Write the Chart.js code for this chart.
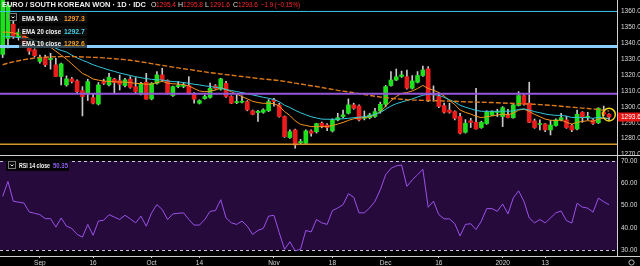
<!DOCTYPE html>
<html>
<head>
<meta charset="utf-8">
<script src="https://cdn.jsdelivr.net/npm/chart.js@4.4.1/dist/chart.umd.min.js"></script>
<style>
  html, body { margin: 0; padding: 0; background: #000; overflow: hidden; }
  #wrap { position: relative; width: 640px; height: 266px; }
  #priceBox { position: absolute; left: 0; top: 0; width: 640px; height: 156px; }
  #rsiBox { position: absolute; left: 0; top: 156px; width: 640px; height: 110px; }
</style>
</head>
<body>
<div id="wrap">
  <div id="priceBox"><canvas id="priceChart"></canvas></div>
  <div id="rsiBox"><canvas id="rsiChart"></canvas></div>
</div>
<script>
// === DATA (EUR/KRW daily, IDC) ===
const startDate = '2019-08-22';
const slotCount = 116; // 115 candles + one empty slot on the right

const opens = [1333,1343,1352,1344,1346.5,1339,1335.8,1328.6,1331.2,1329.8,
  1326.4,1319.1,1313.8,1317.6,1316.3,1310.2,1308.1,1305.8,1301.8,1315.9,
  1313.8,1317.4,1316.5,1313.4,1317.4,1312.7,1308.1,1315.5,1305,1314.8,
  1320.1,1316.5,1307.1,1312.7,1312.9,1313.4,1308.5,1302.3,1305.2,1306,
  1313.2,1311.1,1314.8,1306.5,1302.7,1302.9,1303.3,1297.5,1296.4,1296.6,
  1297.6,1304.4,1301.2,1293.9,1280.7,1285.5,1277.4,1277.1,1284.9,1284.4,
  1289.7,1288.6,1284.9,1291.8,1293.9,1296,1301.2,1300.6,1292.8,1293.2,
  1293.9,1297.4,1301.6,1313.4,1316.9,1319.1,1319,1311.7,1315.5,1319.7,
  1323.9,1308,1306.5,1300.8,1298,1297,1293.9,1284,1291.2,1290.3,
  1287,1289.5,1294.9,1296.5,1293.9,1295.3,1293.2,1300.8,1307.1,1302.3,
  1291.2,1288.9,1289.2,1285.5,1288.2,1291.8,1291.8,1288.2,1286.1,1296.6,
  1293.4,1291.7,1290,1296.5,1295.4];
const highs = [1368,1366,1354,1349,1348,1341,1336.5,1332.5,1332.5,1333.7,
  1330.5,1327.5,1319.5,1318.5,1317,1312.7,1317.4,1308.5,1315.3,1317.4,
  1321.1,1318,1320,1318,1319,1318.4,1315.5,1321.1,1315.3,1322.2,
  1324.3,1317,1313,1315.9,1315.2,1319,1309,1304.5,1307.5,1315,
  1314,1318,1316,1307,1307.5,1307,1304,1298,1297.8,1298.8,
  1304.6,1305.4,1302.3,1294.3,1285.5,1286,1279.6,1285.5,1285.5,1289.7,
  1290.5,1289.5,1292.5,1296,1298,1305,1302.3,1301.2,1297.4,1296,
  1299,1303,1313.5,1322.2,1323.8,1322.5,1323.2,1319.7,1322.2,1325.7,
  1325.3,1313.2,1309,1302.3,1302.3,1297.5,1296,1292,1292.8,1311.7,
  1291,1297.5,1297.5,1298.5,1300.2,1298.5,1301.8,1309.6,1307.5,1315.5,
  1292.4,1291.8,1289.5,1291.4,1292.5,1295.9,1294,1289,1298,1297,
  1296.6,1292.5,1299.5,1300.5,1295.8];
const lows = [1331,1337,1343,1342,1339,1333,1331.5,1327.5,1325.3,1323.7,
  1319,1313.8,1313,1315,1308.5,1294.3,1304,1301.8,1301.2,1314,
  1313.2,1308.5,1310.6,1312.5,1311.7,1309,1307.5,1304.8,1304.4,1314.2,
  1316,1307.9,1306.5,1312,1312,1308,1302.3,1301.8,1304.8,1305.5,
  1311,1310.5,1306,1302,1302,1302.5,1297.5,1295,1290.8,1296,
  1297,1300.4,1293.5,1280.8,1280.2,1274,1276.5,1276.3,1281.5,1283.5,
  1286.8,1285,1284.2,1291.2,1293.2,1295.5,1298.5,1291.2,1291.8,1292.5,
  1293.4,1296,1300,1313,1316.5,1318.5,1311.2,1311.2,1315,1319.2,
  1303.3,1303.5,1299.5,1296,1296,1291.8,1283,1283.5,1287,1286,
  1286.5,1289,1294.5,1293.9,1287.6,1293,1292.8,1300.5,1301,1290,
  1286.5,1285.5,1284.4,1282.3,1287.8,1291.2,1286.5,1284.4,1285.5,1290.3,
  1291.8,1289,1289.5,1294.5,1291.6];
const closes = [1367,1364,1344,1347,1340,1335,1332.2,1331.2,1326.4,1330.3,
  1319.1,1327,1317.6,1315.9,1309.6,1306.5,1315.9,1302.3,1313.8,1314.8,
  1318.6,1315.3,1314.2,1317,1312.3,1309.6,1314.8,1304.8,1314.8,1320.1,
  1316.9,1308.5,1312.7,1313.4,1313.4,1308.5,1304.8,1303.9,1306.5,1311.7,
  1311.5,1317.6,1306.5,1302.3,1303.3,1303.3,1298.1,1295.3,1297.2,1298.1,
  1303.3,1303.3,1293.9,1281.3,1284.4,1276,1278.2,1284.9,1283.4,1289.5,
  1287.6,1287,1291.8,1293.2,1295,1301.2,1299.1,1291.8,1293.4,1294.9,
  1297,1301.6,1312.7,1316.9,1318.9,1320.1,1311.7,1316.3,1319.7,1323.2,
  1304.4,1307.5,1300.2,1296.6,1296.6,1292.8,1283.4,1289.7,1290.2,1286.1,
  1290.3,1296.6,1297,1297,1299.5,1293.2,1301.2,1307.1,1301.6,1290.3,
  1287,1289.3,1285.5,1288.6,1291.8,1293.2,1287,1285.5,1295.3,1293.2,
  1293.6,1289.6,1299.1,1295.5,1293.6];

const ema10 = [1347,1347,1346.5,1345.5,1344.5,1343,1341.5,1340.3,1338.8,1337.5,
  1335,1332.5,1330,1327,1324,1321,1319.5,1317.5,1316.8,1316.3,
  1316,1315.8,1315.6,1315.6,1315.3,1314.7,1314.7,1314.2,1314.3,1315.3,
  1316,1315,1314.5,1314.3,1314,1313.2,1311.5,1310,1309.5,1310,
  1310.5,1312,1311,1309.5,1308,1306.5,1305,1303.5,1302.7,1302.2,
  1302.3,1302,1300.5,1297,1294.6,1291.2,1289,1288.3,1287.6,1287.5,
  1287.6,1287.6,1288.2,1289.2,1290.2,1291.5,1292.5,1293,1293.3,1293.8,
  1295,1297,1300.5,1303.8,1306.5,1308.5,1309,1310,1311.5,1313.5,
  1311.5,1310.5,1309,1306.8,1304,1301.5,1298,1296.5,1295.5,1294,
  1293.3,1293.8,1294.3,1294.8,1295.5,1295,1296.1,1297.9,1298.6,1297.1,
  1295.3,1293.8,1292.3,1291.6,1291.4,1291.7,1290.3,1289.2,1290.3,1290.8,
  1291.3,1290.9,1292.4,1292.8,1292.6];
const ema20 = [1344.5,1344.3,1344,1343.5,1343,1342.3,1341.5,1340.8,1340,1338.5,
  1336.8,1335.5,1334.5,1332.5,1330.8,1329.3,1328,1326.5,1325.3,1324.3,
  1323.2,1322.3,1321.3,1320.5,1319.7,1319,1318.3,1317.8,1317.3,1317,
  1316.9,1316.3,1315.9,1315.7,1315.3,1314.8,1314.2,1313.8,1313.2,1312.8,
  1312.3,1311.8,1310.8,1310.3,1309.6,1309,1308.3,1307.5,1306.8,1306,
  1305.4,1304.6,1303.2,1301,1299.6,1297.8,1296.3,1295,1293.8,1293,
  1292.3,1292.2,1292.2,1292.3,1292.5,1292.8,1293.2,1293.5,1293.8,1294.4,
  1295.2,1296.5,1298.5,1300.5,1302,1303,1304,1305,1306.2,1307.3,
  1307.9,1307.7,1307.3,1306,1304.5,1303,1301,1299.8,1298.8,1297.8,
  1297.2,1297.2,1297.2,1297.2,1297.4,1297.2,1297.5,1298.4,1298.7,1298,
  1297,1296.3,1295.5,1295,1294.7,1294.6,1294.2,1293.3,1293.4,1293.3,
  1293.2,1292.8,1293.4,1293.1,1292.7];
const ema50 = [1326.5,1327.5,1328.3,1329,1329.7,1330.2,1330.7,1331,1331.2,1331.4,
  1331.5,1331.6,1331.6,1331.6,1331.5,1331.4,1331.3,1331.1,1331,1330.8,
  1330.5,1330.3,1330,1329.7,1329.3,1328.8,1328.3,1327.8,1327.2,1326.6,
  1326.1,1325.6,1325,1324.5,1324,1323.5,1323,1322.5,1322,1321.5,
  1321.1,1320.7,1320.3,1319.9,1319.5,1319.1,1318.7,1318.3,1317.9,1317.5,
  1317.2,1316.9,1316.5,1316,1315.5,1314.9,1314.4,1313.8,1313.3,1312.8,
  1312.2,1311.6,1311,1310.4,1309.9,1309.4,1308.9,1308.3,1307.8,1307.2,
  1306.7,1306.2,1305.8,1305.4,1305.1,1304.8,1304.5,1304.3,1304.2,1304.1,
  1304,1303.9,1303.8,1303.7,1303.6,1303.5,1303.3,1303.2,1303.1,1303,
  1302.9,1302.8,1302.7,1302.6,1302.4,1302.3,1302.1,1302,1301.9,1301.8,
  1301.6,1301.4,1301.2,1301,1300.7,1300.4,1300.1,1299.8,1299.5,1299.2,
  1299,1298.6,1298.3,1297.8,1297.3];
const rsi14 = [54.1,60.8,51.9,51.5,51.1,47.1,46.5,45.9,44.1,44.1,
  40.3,44.4,40.7,39.7,37,35.8,41.5,36.6,43,43.4,
  45.9,44.8,43.7,45.6,44,42.2,45.2,40.7,46.7,50.4,
  48.2,43.7,46.2,46.5,46.7,43.7,41.2,41.2,43.7,47.4,
  47.7,52.6,44.4,42.2,41.5,43,40.7,37,38.8,39.7,
  45.2,45.6,37.8,30.3,33.7,29.6,30.3,38.8,38.1,43.7,
  42.2,41.5,47.7,48.9,50.4,55.3,53.7,46.7,46.7,48.9,
  51.9,57.1,63.8,66.7,67.8,68.2,58.6,61.5,63.8,66.3,
  49.2,51.9,45.9,44,44,41.8,36.3,41.5,41.8,39.2,
  43,48.6,48.6,47.4,50.7,46.2,53.4,56.6,51.9,44.4,
  42.2,43.7,42.2,44.4,46.7,47.5,43.2,42.1,51,49.3,
  48.8,47,53.3,51.7,50.35];

const priceTicks = [1270,1280,1290,1300,1310,1320,1330,1340,1350,1360];
const rsiTicks = [30,40,50,60,70];
const levelLines = [1360, 1338, 1308.3, 1276.5];
const xTickNames = {
  '2019-09-02': 'Sep', '2019-09-16': '16', '2019-10-01': 'Oct', '2019-10-14': '14',
  '2019-11-01': 'Nov', '2019-11-18': '18', '2019-12-02': 'Dec', '2019-12-16': '16',
  '2020-01-01': '2020', '2020-01-13': '13'
};
const lastO = 1295.4, lastH = 1295.8, lastL = 1291.6, lastC = 1293.6;

// === helpers ===
function weekdayDates(start, n) {
  const out = [];
  const d = new Date(start + 'T00:00:00Z');
  while (out.length < n) {
    const wd = d.getUTCDay();
    if (wd !== 0 && wd !== 6) out.push(d.toISOString().slice(0, 10));
    d.setUTCDate(d.getUTCDate() + 1);
  }
  return out;
}
const dates = weekdayDates(startDate, slotCount);

const wickData = highs.map((h, i) => [lows[i], h]);
const bodyData = opens.map((o, i) => [Math.min(o, closes[i]), Math.max(o, closes[i])]);
const candleColors = closes.map((c, i) => c >= opens[i] ? '#1ee01e' : '#ea1c1c');

const FONT = '"Liberation Sans", Arial, sans-serif';
const levelStyles = [
  { color: '#3cc6ee', width: 1 },
  { color: '#8ccfff', width: 3 },
  { color: '#9558dc', width: 2 },
  { color: '#d6962c', width: 1.5 }
];

// keep the plot area flush with the pane edges
function fixRightAxis(s) {
  s.width = 23;
  s.paddingTop = 0;
  s.paddingBottom = 0;
}

function drawChevronBox(ctx, x, y) {
  ctx.fillStyle = '#0a0a0a';
  ctx.fillRect(x, y, 8, 8);
  ctx.strokeStyle = '#7a7a7a';
  ctx.lineWidth = 1;
  ctx.strokeRect(x + 0.5, y + 0.5, 7, 7);
  ctx.strokeStyle = '#eeeeee';
  ctx.beginPath();
  ctx.moveTo(x + 2.5, y + 3.5);
  ctx.lineTo(x + 4, y + 5);
  ctx.lineTo(x + 5.5, y + 3.5);
  ctx.stroke();
}

// === PRICE PANE ===
const priceDecor = {
  id: 'priceDecor',
  afterDatasetsDraw(chart) {
    const { ctx, chartArea: a, scales: { x, y } } = chart;
    ctx.save();
    levelLines.forEach((lv, k) => {
      const py = y.getPixelForValue(lv);
      ctx.strokeStyle = levelStyles[k].color;
      ctx.lineWidth = levelStyles[k].width;
      ctx.beginPath();
      ctx.moveTo(a.left, py);
      ctx.lineTo(a.right, py);
      ctx.stroke();
    });

    // highlight circle round the last candle
    const lx = x.getPixelForValue(closes.length - 1);
    const ly = y.getPixelForValue((lastO + lastC) / 2);
    ctx.strokeStyle = '#ecd21a';
    ctx.lineWidth = 1.5;
    ctx.beginPath();
    ctx.arc(lx, ly - 1, 6.3, 0, Math.PI * 2);
    ctx.stroke();
    ctx.restore();
  },
  afterDraw(chart) {
    const { ctx, chartArea: a, scales: { y } } = chart;
    ctx.save();
    ctx.textBaseline = 'alphabetic';
    // header
    ctx.font = 'bold 7.5px ' + FONT;
    ctx.fillStyle = '#eeeeee';
    ctx.textAlign = 'left';
    ctx.fillText('EURO / SOUTH KOREAN WON · 1D · IDC', 2, 7, 144);
    ctx.font = '7px ' + FONT;
    const ohlc = [['O', lastO, 151], ['H', lastH, 178], ['L', lastL, 205], ['C', lastC, 233]];
    ohlc.forEach(([k, v, px]) => {
      ctx.fillStyle = '#dddddd';
      ctx.fillText(k, px, 7);
      ctx.fillStyle = '#ff2b2b';
      ctx.fillText(v.toFixed(1), px + 5, 7, 20);
    });
    ctx.fillStyle = '#ff2b2b';
    ctx.fillText('−1.9 (−0.15%)', 261, 7, 39);

    // legends
    const rows = [
      { name: 'EMA 50 EMA', value: ema50[ema50.length - 1], color: '#ff9a1f', y: 18 },
      { name: 'EMA 20 close', value: ema20[ema20.length - 1], color: '#45d0e6', y: 31 },
      { name: 'EMA 10 close', value: ema10[ema10.length - 1], color: '#f6a524', y: 43 }
    ];
    rows.forEach((r) => {
      ctx.fillStyle = 'rgba(18,18,18,0.72)';
      ctx.fillRect(19, r.y - 5, 68, 10);
      ctx.font = 'bold 6.8px ' + FONT;
      ctx.fillStyle = '#f2f2f2';
      ctx.fillText(r.name, 22, r.y + 2.5, r.name === 'EMA 50 EMA' ? 36 : 39);
      ctx.fillStyle = r.color;
      ctx.fillText(r.value.toFixed(1), 64, r.y + 2.5, 21);
    });
    drawChevronBox(ctx, 9, 13);

    // pane bottom separator
    ctx.strokeStyle = '#d0d0d0';
    ctx.lineWidth = 1;
    ctx.beginPath();
    ctx.moveTo(0, a.bottom - 0.5);
    ctx.lineTo(640, a.bottom - 0.5);
    ctx.stroke();

    // last price tag
    const py = y.getPixelForValue(lastC);
    ctx.fillStyle = '#e31414';
    ctx.fillRect(a.right + 1, py - 4.5, 640 - a.right - 1, 9);
    ctx.fillStyle = '#ffffff';
    ctx.font = '6.5px ' + FONT;
    ctx.textBaseline = 'middle';
    ctx.fillText(lastC.toFixed(1), a.right + 4, py + 0.5);
    ctx.restore();
  }
};

new Chart(document.getElementById('priceChart'), {
  type: 'bar',
  data: {
    labels: dates,
    datasets: [
      { type: 'line', label: 'EMA 50', data: ema50, borderColor: '#dc7a1a', borderWidth: 1.4,
        borderDash: [5, 2], pointRadius: 0, order: 1 },
      { type: 'line', label: 'EMA 20', data: ema20, borderColor: '#34c8de', borderWidth: 1,
        pointRadius: 0, order: 1 },
      { type: 'line', label: 'EMA 10', data: ema10, borderColor: '#f7941d', borderWidth: 1,
        pointRadius: 0, order: 1 },
      { label: 'wick', data: wickData, backgroundColor: '#c9c9c9', barThickness: 1,
        grouped: false, order: 3 },
      { label: 'body', data: bodyData, backgroundColor: candleColors, barThickness: 4,
        minBarLength: 1, grouped: false, order: 2 }
    ]
  },
  options: {
    responsive: true,
    maintainAspectRatio: false,
    animation: false,
    layout: { padding: 0 },
    plugins: { legend: { display: false }, tooltip: { enabled: false } },
    scales: {
      x: { display: false, offset: true },
      y: {
        position: 'right',
        min: 1269.1,
        max: 1367.2,
        afterBuildTicks: (s) => { s.ticks = priceTicks.map(v => ({ value: v })); },
        afterFit: fixRightAxis,
        grid: { display: false, drawTicks: false, tickLength: 0 },
        border: { display: true, color: '#d0d0d0', width: 1 },
        ticks: {
          color: '#dcdcdc',
          padding: 4,
          font: { family: FONT, size: 6.5 },
          callback: v => Number(v).toFixed(1)
        }
      }
    }
  },
  plugins: [priceDecor]
});

// === RSI PANE ===
const rsiDecor = {
  id: 'rsiDecor',
  beforeDatasetsDraw(chart) {
    const { ctx, chartArea: a, scales: { y } } = chart;
    const top = y.getPixelForValue(70);
    const bot = y.getPixelForValue(30);
    ctx.save();
    ctx.fillStyle = '#250a3b';
    ctx.fillRect(a.left, top, a.right - a.left, bot - top);
    ctx.strokeStyle = '#cdbfe0';
    ctx.lineWidth = 1;
    ctx.setLineDash([3, 3]);
    [top, bot].forEach((py) => {
      ctx.beginPath();
      ctx.moveTo(a.left, Math.round(py) + 0.5);
      ctx.lineTo(a.right, Math.round(py) + 0.5);
      ctx.stroke();
    });
    ctx.restore();
  },
  afterDraw(chart) {
    const { ctx, chartArea: a } = chart;
    ctx.save();
    ctx.strokeStyle = '#d0d0d0';
    ctx.lineWidth = 1;
    ctx.beginPath();
    ctx.moveTo(a.right, a.bottom + 0.5);
    ctx.lineTo(640, a.bottom + 0.5);
    ctx.stroke();

    // legend
    ctx.fillStyle = '#050505';
    ctx.fillRect(6, 3, 63, 12);
    drawChevronBox(ctx, 8, 5);
    ctx.font = 'bold 6.8px ' + FONT;
    ctx.fillStyle = '#f2f2f2';
    ctx.textBaseline = 'alphabetic';
    ctx.fillText('RSI 14 close', 19, 11.5, 31);
    ctx.fillStyle = '#8d5cf0';
    ctx.fillText(rsi14[rsi14.length - 1].toFixed(2), 53, 11.5, 15);

    // settings icon bottom right
    ctx.strokeStyle = '#bbbbbb';
    ctx.beginPath();
    ctx.arc(631.5, 106.5, 2.6, 0, Math.PI * 2);
    ctx.stroke();
    ctx.restore();
  }
};

new Chart(document.getElementById('rsiChart'), {
  type: 'line',
  data: {
    labels: dates,
    datasets: [{ label: 'RSI 14', data: rsi14, borderColor: '#9a52ea', borderWidth: 1,
      pointRadius: 0 }]
  },
  options: {
    responsive: true,
    maintainAspectRatio: false,
    animation: false,
    layout: { padding: 0 },
    plugins: { legend: { display: false }, tooltip: { enabled: false } },
    scales: {
      x: {
        offset: true,
        afterFit: (s) => { s.height = 10; s.paddingLeft = 0; s.paddingRight = 0; },
        grid: {
          display: true,
          drawOnChartArea: false,
          drawTicks: true,
          tickLength: 2,
          color: (c) => (xTickNames[dates[c.index]] ? '#cfcfcf' : 'rgba(0,0,0,0)')
        },
        border: { display: true, color: '#d0d0d0', width: 1 },
        ticks: {
          autoSkip: false,
          maxRotation: 0,
          padding: 1,
          color: '#d6d6d6',
          font: { family: FONT, size: 6.5 },
          callback: (v, i) => xTickNames[dates[i]] || ''
        }
      },
      y: {
        position: 'right',
        min: 27.3,
        max: 72.25,
        afterBuildTicks: (s) => { s.ticks = rsiTicks.map(v => ({ value: v })); },
        afterFit: fixRightAxis,
        grid: { display: false, drawTicks: false, tickLength: 0 },
        border: { display: true, color: '#d0d0d0', width: 1 },
        ticks: {
          color: '#dcdcdc',
          padding: 4,
          font: { family: FONT, size: 6.5 },
          callback: v => Number(v).toFixed(2)
        }
      }
    }
  },
  plugins: [rsiDecor]
});
</script>
</body>
</html>
